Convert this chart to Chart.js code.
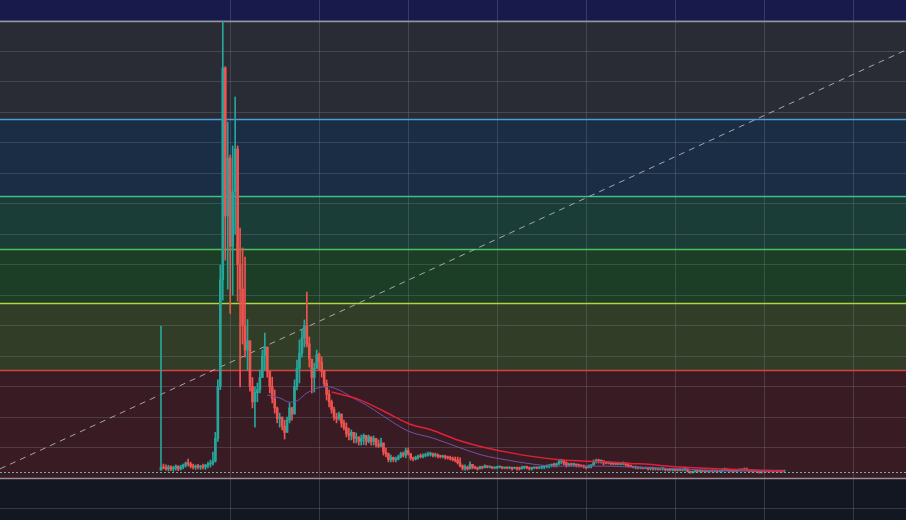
<!DOCTYPE html>
<html>
<head>
<meta charset="utf-8">
<script src="https://cdn.jsdelivr.net/npm/chart.js@4/dist/chart.umd.min.js"></script>
<style>
html, body { margin: 0; padding: 0; background: #131722; }
canvas { display: block; }
</style>
</head>
<body>
<canvas id="chart" width="906" height="520"></canvas>
<script>
// candles, one per bar index (open = previous close)
const highs = [
  4.99, 0.46, 0.43, 0.42, 0.40, 0.39, 0.43, 0.40, 0.42, 0.46,
  0.53, 0.62, 0.52, 0.46, 0.43, 0.45, 0.42, 0.46, 0.45, 0.52,
  0.59, 0.85, 1.50, 3.22, 6.99, 15.00, 13.50, 11.68, 10.60, 10.90,
  12.50, 10.90, 8.20, 7.55, 7.25, 5.20, 4.50, 3.30, 3.00, 3.12,
  3.54, 4.20, 4.76, 4.30, 3.50, 3.31, 2.89, 2.33, 2.13, 2.00,
  1.90, 2.00, 2.46, 2.33, 3.22, 3.87, 4.53, 4.86, 5.19, 6.10,
  4.63, 3.90, 3.77, 4.20, 4.10, 3.97, 3.54, 3.22, 2.89, 2.56,
  2.33, 2.13, 2.16, 2.10, 1.90, 1.81, 1.64, 1.58, 1.50, 1.48,
  1.35, 1.41, 1.45, 1.40, 1.41, 1.35, 1.38, 1.30, 1.25, 1.31,
  1.15, 0.98, 0.82, 0.75, 0.69, 0.69, 0.75, 0.85, 0.85, 0.98,
  0.98, 0.80, 0.69, 0.72, 0.75, 0.79, 0.79, 0.82, 0.85, 0.85,
  0.82, 0.82, 0.79, 0.75, 0.75, 0.75, 0.72, 0.72, 0.69, 0.69,
  0.69, 0.66, 0.43, 0.43, 0.39, 0.53, 0.45, 0.39, 0.36, 0.39,
  0.39, 0.43, 0.40, 0.39, 0.37, 0.36, 0.39, 0.39, 0.37, 0.36,
  0.36, 0.36, 0.36, 0.36, 0.36, 0.36, 0.39, 0.39, 0.39, 0.36,
  0.36, 0.36, 0.36, 0.36, 0.39, 0.39, 0.43, 0.43, 0.46, 0.49,
  0.49, 0.59, 0.62, 0.59, 0.53, 0.49, 0.49, 0.49, 0.46, 0.46,
  0.43, 0.43, 0.39, 0.43, 0.43, 0.59, 0.62, 0.62, 0.59, 0.56,
  0.53, 0.53, 0.50, 0.49, 0.49, 0.49, 0.49, 0.53, 0.49, 0.46,
  0.43, 0.39, 0.39, 0.36, 0.36, 0.36, 0.36, 0.36, 0.36, 0.36,
  0.33, 0.33, 0.33, 0.33, 0.32, 0.30, 0.30, 0.30, 0.30, 0.30,
  0.30, 0.30, 0.36, 0.30, 0.23, 0.23, 0.26, 0.26, 0.26, 0.26,
  0.26, 0.26, 0.26, 0.26, 0.26, 0.26, 0.26, 0.30, 0.33, 0.30,
  0.26, 0.26, 0.26, 0.26, 0.30, 0.30, 0.33, 0.33, 0.26, 0.26,
  0.26, 0.26, 0.23, 0.23, 0.26, 0.26, 0.26, 0.26, 0.26, 0.26,
  0.26, 0.26, 0.26
];
const lows = [
  0.26, 0.30, 0.26, 0.23, 0.24, 0.22, 0.26, 0.24, 0.26, 0.30,
  0.36, 0.39, 0.33, 0.30, 0.28, 0.30, 0.28, 0.30, 0.28, 0.33,
  0.36, 0.42, 0.52, 1.20, 2.90, 5.84, 7.15, 6.20, 5.40, 6.00,
  8.00, 5.80, 2.99, 4.40, 3.97, 3.54, 2.85, 2.30, 1.67, 2.50,
  2.79, 3.30, 3.54, 3.31, 2.79, 2.46, 2.13, 1.81, 1.67, 1.58,
  1.28, 1.50, 1.81, 1.90, 2.10, 2.89, 3.12, 3.97, 4.30, 4.30,
  3.64, 2.79, 2.82, 3.60, 3.54, 3.31, 2.99, 2.56, 2.33, 2.13,
  1.90, 1.81, 1.90, 1.67, 1.58, 1.35, 1.25, 1.25, 1.15, 1.15,
  1.08, 1.08, 1.10, 1.08, 1.15, 1.08, 1.08, 1.02, 1.00, 1.02,
  0.75, 0.69, 0.53, 0.53, 0.53, 0.53, 0.59, 0.66, 0.69, 0.66,
  0.75, 0.59, 0.56, 0.59, 0.62, 0.66, 0.66, 0.69, 0.72, 0.72,
  0.69, 0.69, 0.66, 0.66, 0.66, 0.62, 0.62, 0.59, 0.56, 0.53,
  0.46, 0.36, 0.26, 0.26, 0.26, 0.30, 0.30, 0.30, 0.26, 0.30,
  0.30, 0.33, 0.33, 0.33, 0.30, 0.30, 0.30, 0.33, 0.30, 0.30,
  0.30, 0.30, 0.26, 0.30, 0.26, 0.26, 0.30, 0.30, 0.30, 0.26,
  0.26, 0.30, 0.30, 0.30, 0.30, 0.30, 0.33, 0.33, 0.36, 0.36,
  0.36, 0.43, 0.46, 0.43, 0.36, 0.39, 0.39, 0.39, 0.36, 0.36,
  0.36, 0.33, 0.30, 0.33, 0.33, 0.42, 0.49, 0.49, 0.49, 0.43,
  0.46, 0.46, 0.43, 0.43, 0.43, 0.43, 0.43, 0.43, 0.39, 0.36,
  0.36, 0.33, 0.30, 0.30, 0.30, 0.30, 0.30, 0.26, 0.26, 0.26,
  0.26, 0.26, 0.26, 0.26, 0.23, 0.23, 0.23, 0.23, 0.23, 0.23,
  0.23, 0.23, 0.23, 0.20, 0.16, 0.16, 0.20, 0.20, 0.20, 0.20,
  0.20, 0.20, 0.20, 0.20, 0.20, 0.20, 0.20, 0.20, 0.23, 0.23,
  0.20, 0.20, 0.20, 0.20, 0.23, 0.23, 0.23, 0.23, 0.20, 0.20,
  0.20, 0.20, 0.16, 0.16, 0.20, 0.20, 0.20, 0.20, 0.20, 0.20,
  0.20, 0.20, 0.22
];
const closes = [
  0.36, 0.33, 0.30, 0.36, 0.30, 0.33, 0.39, 0.30, 0.36, 0.43,
  0.49, 0.46, 0.39, 0.36, 0.39, 0.36, 0.39, 0.36, 0.42, 0.46,
  0.49, 0.56, 1.30, 3.00, 6.50, 13.46, 8.60, 10.50, 7.60, 9.40,
  10.80, 7.00, 6.20, 5.00, 4.20, 4.50, 3.00, 2.50, 2.80, 2.90,
  3.30, 4.00, 4.30, 3.50, 3.00, 2.60, 2.30, 1.95, 2.00, 1.70,
  1.50, 1.90, 2.30, 2.10, 3.00, 3.60, 4.10, 4.60, 5.00, 4.40,
  3.90, 3.30, 3.60, 4.05, 3.80, 3.50, 3.10, 2.75, 2.50, 2.25,
  2.00, 1.95, 2.10, 1.80, 1.65, 1.45, 1.40, 1.50, 1.30, 1.35,
  1.20, 1.30, 1.40, 1.20, 1.35, 1.20, 1.30, 1.10, 1.05, 1.15,
  0.85, 0.80, 0.60, 0.68, 0.60, 0.62, 0.70, 0.80, 0.75, 0.90,
  0.80, 0.65, 0.62, 0.68, 0.72, 0.70, 0.74, 0.76, 0.78, 0.80,
  0.74, 0.76, 0.72, 0.70, 0.72, 0.68, 0.66, 0.64, 0.60, 0.58,
  0.50, 0.40, 0.32, 0.36, 0.30, 0.45, 0.36, 0.33, 0.30, 0.36,
  0.34, 0.40, 0.36, 0.37, 0.33, 0.34, 0.36, 0.37, 0.33, 0.34,
  0.33, 0.35, 0.31, 0.34, 0.32, 0.30, 0.35, 0.37, 0.34, 0.31,
  0.33, 0.35, 0.33, 0.35, 0.37, 0.38, 0.40, 0.42, 0.45, 0.42,
  0.47, 0.55, 0.57, 0.50, 0.42, 0.45, 0.44, 0.46, 0.42, 0.41,
  0.39, 0.37, 0.34, 0.40, 0.42, 0.55, 0.58, 0.56, 0.57, 0.50,
  0.49, 0.50, 0.47, 0.46, 0.47, 0.45, 0.46, 0.47, 0.43, 0.39,
  0.38, 0.35, 0.36, 0.33, 0.34, 0.32, 0.33, 0.31, 0.32, 0.30,
  0.31, 0.29, 0.31, 0.32, 0.27, 0.28, 0.26, 0.27, 0.25, 0.27,
  0.26, 0.28, 0.30, 0.22, 0.19, 0.20, 0.23, 0.22, 0.24, 0.22,
  0.23, 0.22, 0.24, 0.23, 0.24, 0.22, 0.23, 0.26, 0.29, 0.26,
  0.23, 0.24, 0.22, 0.24, 0.27, 0.26, 0.29, 0.26, 0.23, 0.24,
  0.22, 0.23, 0.20, 0.21, 0.23, 0.22, 0.23, 0.22, 0.24, 0.22,
  0.23, 0.22, 0.24
];

// moving averages (bar index, value)
const maRedX = [69, 80, 90, 100, 110, 120, 130, 140, 150, 160, 170, 180, 190, 200, 210, 220, 230, 240, 252];
const maRedY = [2.82, 2.58, 2.20, 1.79, 1.56, 1.25, 1.02, 0.85, 0.71, 0.61, 0.56, 0.53, 0.48, 0.43, 0.36, 0.32, 0.29, 0.26, 0.23];
const maPurpleX = [43, 48, 52, 55, 59, 64, 67, 72, 77, 83, 90, 100, 110, 120, 130, 140, 150, 160, 170, 180, 190, 200, 210, 220, 230, 240, 252];
const maPurpleY = [2.72, 2.63, 2.49, 2.53, 2.79, 2.97, 3.00, 2.89, 2.66, 2.40, 2.03, 1.54, 1.31, 1.02, 0.75, 0.59, 0.46, 0.39, 0.39, 0.39, 0.36, 0.33, 0.30, 0.26, 0.23, 0.23, 0.20];

// trend line and last price
const trendX = [-65.1, 301.4];
const trendY = [0.30, 14.05];
const lastPrice = 0.18;

// fibonacci retracement
const fibLow = 0;
const fibHigh = 15;
const fibRatios = [0, 0.236, 0.382, 0.5, 0.618, 0.786, 1, 1.618];
const fibLineColors = ['#9c8a94', '#d2453f', '#b5d443', '#4cc35a', '#3ec092', '#4a9fd8', '#9598a1', '#2962ff'];
const fibFillColors = ['#391b24', '#323d27', '#1c3d26', '#1b3d37', '#1b2d45', '#2a2c35', '#191a4c'];

// time grid positions (bar index)
const timeTicks = [28, 64, 100, 136, 172, 208, 244, 280];

const UP = '#26a69a';
const DOWN = '#ef5350';
const GRID = 'rgba(120, 123, 134, 0.34)';

const xMin = -65.12, xMax = 301.36;
const yMin = -1.378, yMax = 15.688;

const fibLevel = r => fibLow + r * (fibHigh - fibLow);

const opens = closes.map((c, i) => i ? closes[i - 1] : lows[0]);
const candleColors = closes.map((c, i) => c >= opens[i] ? UP : DOWN);

const fibPlugin = {
    id: 'fib',
    beforeDraw(chart) {
        const {ctx, width, height} = chart;
        const y = chart.scales.y;
        ctx.save();
        ctx.fillStyle = '#131722';
        ctx.fillRect(0, 0, width, height);
        for (let k = 0; k < fibRatios.length - 1; k++) {
            const y0 = y.getPixelForValue(fibLevel(fibRatios[k]));
            const y1 = y.getPixelForValue(fibLevel(fibRatios[k + 1]));
            ctx.fillStyle = fibFillColors[k];
            ctx.fillRect(0, y1, width, y0 - y1);
        }
        ctx.restore();
    },
    beforeDatasetsDraw(chart) {
        const {ctx, width} = chart;
        const y = chart.scales.y;
        ctx.save();
        ctx.lineWidth = 1.3;
        fibRatios.forEach((r, k) => {
            const py = Math.round(y.getPixelForValue(fibLevel(r))) + 0.5;
            ctx.strokeStyle = fibLineColors[k];
            ctx.beginPath();
            ctx.moveTo(0, py);
            ctx.lineTo(width, py);
            ctx.stroke();
        });
        ctx.restore();
    }
};

const toPoints = (xs, ys) => xs.map((x, i) => ({x: x, y: ys[i]}));

new Chart(document.getElementById('chart').getContext('2d'), {
    type: 'bar',
    data: {
        datasets: [
            {
                type: 'line',
                data: toPoints(trendX, trendY),
                borderColor: 'rgba(195, 195, 200, 0.8)',
                borderWidth: 1,
                borderDash: [6, 5],
                pointRadius: 0,
                order: 5
            },
            {
                data: closes.map((c, i) => ({x: i, y: [lows[i], highs[i]]})),
                backgroundColor: candleColors,
                barThickness: 1,
                grouped: false,
                order: 4
            },
            {
                data: closes.map((c, i) => ({x: i, y: [Math.min(opens[i], c), Math.max(opens[i], c)]})),
                backgroundColor: candleColors,
                barThickness: 2,
                minBarLength: 1,
                grouped: false,
                order: 3
            },
            {
                type: 'line',
                data: toPoints(maPurpleX, maPurpleY),
                borderColor: '#6f55a3',
                borderWidth: 1,
                pointRadius: 0,
                cubicInterpolationMode: 'monotone',
                order: 2
            },
            {
                type: 'line',
                data: toPoints(maRedX, maRedY),
                borderColor: '#e0213a',
                borderWidth: 1.5,
                pointRadius: 0,
                cubicInterpolationMode: 'monotone',
                order: 1
            },
            {
                type: 'line',
                data: [{x: xMin, y: lastPrice}, {x: xMax, y: lastPrice}],
                borderColor: '#62b9b0',
                borderWidth: 1,
                borderDash: [2, 2],
                pointRadius: 0,
                order: 0
            }
        ]
    },
    options: {
        responsive: false,
        animation: false,
        layout: {padding: 0},
        plugins: {legend: {display: false}, tooltip: {enabled: false}},
        scales: {
            x: {
                type: 'linear',
                min: xMin,
                max: xMax,
                offset: false,
                grid: {color: GRID, drawTicks: false, offset: false},
                border: {display: false},
                ticks: {display: false},
                afterBuildTicks: scale => { scale.ticks = timeTicks.map(v => ({value: v})); }
            },
            y: {
                min: yMin,
                max: yMax,
                grid: {color: GRID, drawTicks: false},
                border: {display: false},
                ticks: {display: false, stepSize: 1, includeBounds: false}
            }
        }
    },
    plugins: [fibPlugin]
});
</script>
</body>
</html>
